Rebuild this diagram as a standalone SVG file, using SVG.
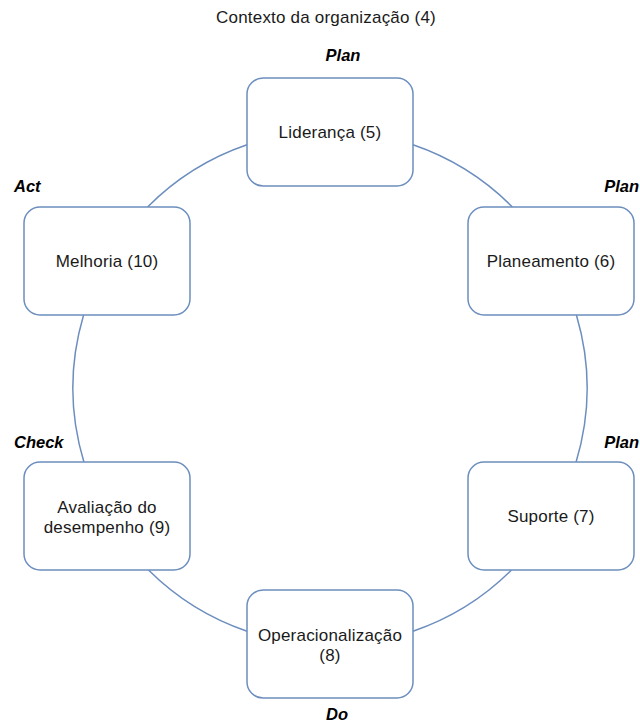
<svg xmlns="http://www.w3.org/2000/svg" width="640" height="722" viewBox="0 0 640 722">
  <style>
    .box { fill: #ffffff; stroke: #6c8ebf; stroke-width: 1.5; }
    .arc { fill: none; stroke: #6c8ebf; stroke-width: 1.5; }
    .t { font-family: "Liberation Sans", Arial, sans-serif; font-size: 17px; letter-spacing: 0.2px; fill: #1a1a1a; text-anchor: middle; }
    .phase { font-family: "Liberation Sans", Arial, sans-serif; font-size: 16.5px; font-weight: bold; font-style: italic; fill: #000000; }
  </style>
  <rect width="640" height="722" fill="#ffffff"/>

  <!-- circular flow between the clauses (centre 330,388, r 257) -->
  <g id="connectors">
    <path class="arc" d="M413,144.8 A257,257 0 0 1 512.4,207"/>
    <path class="arc" d="M576.4,315 A257,257 0 0 1 576.1,462"/>
    <path class="arc" d="M511.5,570 A257,257 0 0 1 413,631.2"/>
    <path class="arc" d="M247,631.2 A257,257 0 0 1 148.5,570"/>
    <path class="arc" d="M83.9,462 A257,257 0 0 1 83.6,315"/>
    <path class="arc" d="M147.6,207 A257,257 0 0 1 247,144.8"/>
  </g>

  <text class="t" x="326" y="23">Contexto da organização (4)</text>

  <g id="lideranca">
    <rect class="box" x="247" y="78" width="166" height="108" rx="16"/>
    <text class="t" x="330" y="138">Liderança (5)</text>
    <text class="phase" x="343" y="61" text-anchor="middle">Plan</text>
  </g>

  <g id="planeamento">
    <rect class="box" x="468" y="207" width="166" height="108" rx="16"/>
    <text class="t" x="551" y="267">Planeamento (6)</text>
    <text class="phase" x="639" y="192" text-anchor="end">Plan</text>
  </g>

  <g id="suporte">
    <rect class="box" x="468" y="462" width="166" height="108" rx="16"/>
    <text class="t" x="551" y="522">Suporte (7)</text>
    <text class="phase" x="639" y="448" text-anchor="end">Plan</text>
  </g>

  <g id="operacionalizacao">
    <rect class="box" x="247" y="590" width="166" height="108" rx="16"/>
    <text class="t" x="330" y="641">Operacionalização</text>
    <text class="t" x="330" y="661">(8)</text>
    <text class="phase" x="337" y="720" text-anchor="middle">Do</text>
  </g>

  <g id="avaliacao">
    <rect class="box" x="24" y="462" width="166" height="108" rx="16"/>
    <text class="t" x="107" y="513">Avaliação do</text>
    <text class="t" x="107" y="533">desempenho (9)</text>
    <text class="phase" x="14" y="448">Check</text>
  </g>

  <g id="melhoria">
    <rect class="box" x="24" y="207" width="166" height="108" rx="16"/>
    <text class="t" x="107" y="267">Melhoria (10)</text>
    <text class="phase" x="14" y="192">Act</text>
  </g>
</svg>
